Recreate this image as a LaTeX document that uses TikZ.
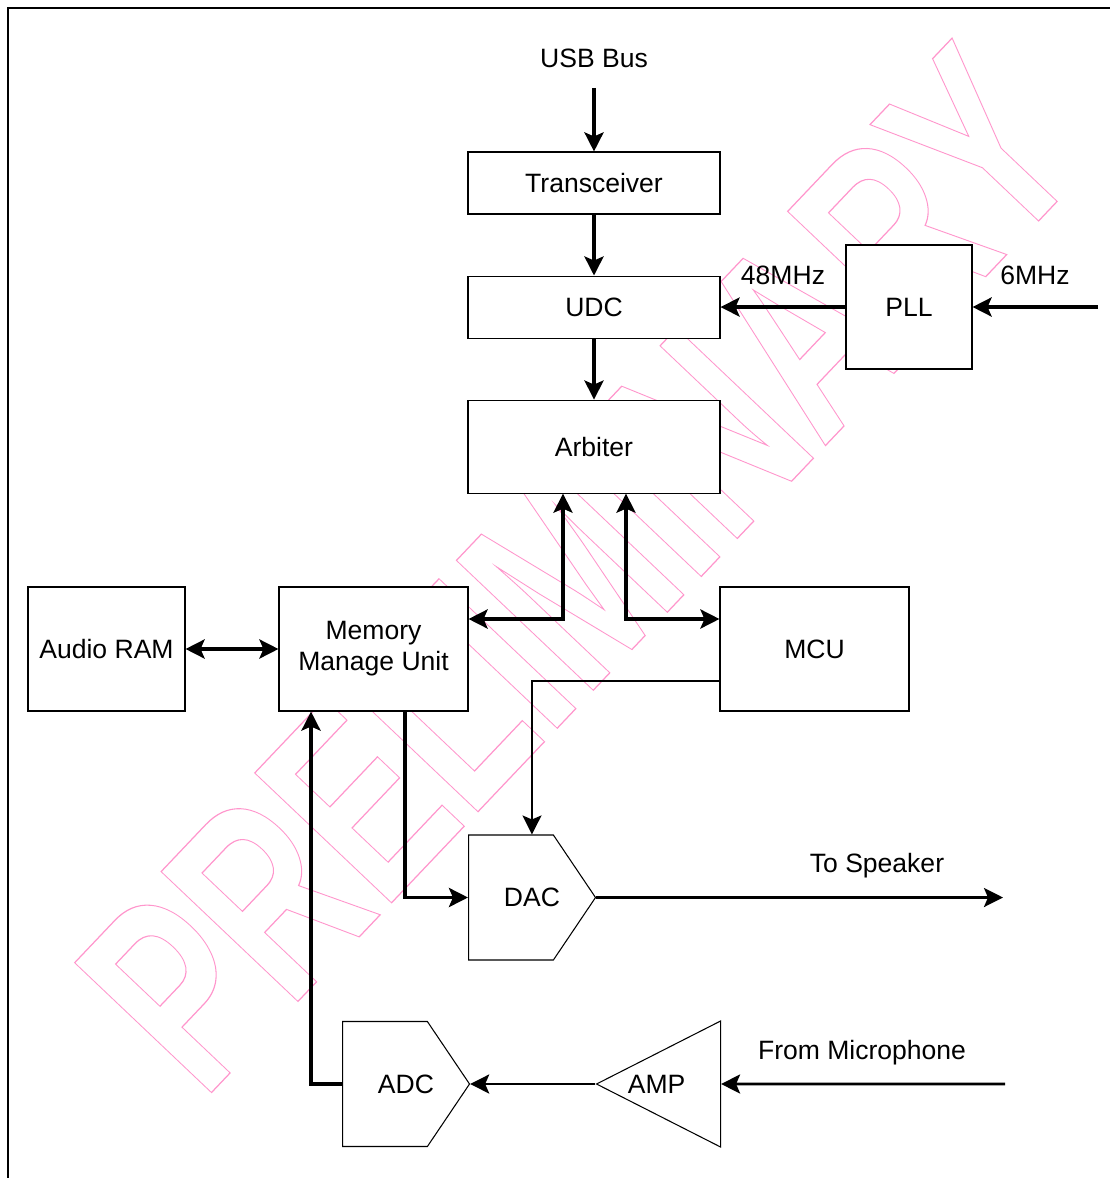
\documentclass[tikz,border=0pt]{standalone}
\usepackage{fontspec}
\setmainfont{Liberation Sans}
\usetikzlibrary{positioning, arrows.meta, shapes.symbols, shapes.geometric}

\definecolor{wmpink}{RGB}{255,150,204}

\begin{document}
\begin{tikzpicture}[
            >={Stealth[length=0.38cm, width=0.38cm, inset=0.08cm]},
            block/.style={
                draw,
                fill=white,
                line width=0.6pt,
                font=\fontsize{15.1}{17.6}\selectfont,
                inner sep=0pt,
                align=center
            },
            convbox/.style={
                block,
                signal,
                signal to=east,
                signal pointer angle=112,
                minimum width=2.54cm,
                minimum height=2.5cm,
                anchor=west,
                execute at begin node={\hspace*{0.42cm}},
                execute at end node={\hspace*{-0.42cm}}
            },
            ampbox/.style={
                block,
                isosceles triangle,
                shape border rotate=180,
                isosceles triangle stretches,
                minimum width=2.52cm,
                minimum height=2.48cm,
                anchor=apex,
                execute at begin node={\hspace*{-0.4cm}},
                execute at end node={\hspace*{0.4cm}}
            },
            tag/.style={
                font=\fontsize{15.1}{17.6}\selectfont,
                inner sep=0pt
            },
            bus/.style={draw, line width=2.2pt},
            wire/.style={draw, line width=1.6pt},
            thinwire/.style={draw, line width=1.1pt},
            frameline/.style={draw, line width=1.2pt},
            watermark/.style={
                transform shape,
                inner sep=0pt,
                line width=0.7pt,
                text=wmpink,
                font=\fontsize{156}{160}\selectfont\bfseries
            }
        ]

        \useasboundingbox (0,0) rectangle (22.2,-23.56);

        % Page frame (top and left edges)
        \draw[frameline] (0.16,-23.56) |- (22.2,-0.16);

        % Watermark (outlined, behind the blocks)
        \begin{scope}[shift={(4.05,-22.04)}, rotate=46.5, xscale=0.687]
            \node[watermark, anchor=base west] (prelim) at (0,0)
                {\special{pdf:literal direct 1 Tr}PRELIMINARY\special{pdf:literal direct 0 Tr}};
        \end{scope}

        % USB side
        \node[tag] (usbbus) at (11.88,-1.16) {USB Bus};
        \coordinate (usbin) at (11.88,-1.76);

        \node[block,
            minimum width=5.04cm,
            minimum height=1.24cm
        ] (trans) at (11.88,-3.66) {Transceiver};

        \node[block,
            minimum width=5.04cm,
            minimum height=1.24cm,
            anchor=north
        ] (udc) at ([yshift=-1.22cm] trans.south) {UDC};

        \node[block,
            minimum width=5.04cm,
            minimum height=1.86cm,
            anchor=north
        ] (arb) at ([yshift=-1.22cm] udc.south) {Arbiter};

        % Clock
        \node[block,
            minimum width=2.52cm,
            minimum height=2.48cm
        ] (pll) at (18.18,-6.14) {PLL};
        \coordinate (clkin) at (21.96,-6.14);

        \node[tag] (fortyeight) at (15.66,-5.5) {48MHz};
        \node[tag] (six) at (20.7,-5.5) {6MHz};

        % Middle row
        \node[block,
            minimum width=3.14cm,
            minimum height=2.48cm
        ] (ram) at (2.13,-12.98) {Audio RAM};

        \node[block,
            minimum width=3.78cm,
            minimum height=2.48cm
        ] (mmu) at (7.47,-12.98) {Memory\\Manage Unit};

        \node[block,
            minimum width=3.78cm,
            minimum height=2.48cm
        ] (mcu) at (16.29,-12.98) {MCU};

        % Converters
        \node[convbox] (dac) at (9.36,-17.95) {DAC};
        \node[convbox] (adc) at (6.84,-21.68) {ADC};
        \node[ampbox] (amp) at ([xshift=2.5cm] adc.east) {AMP};

        \coordinate (spk) at (20.06,-17.95);
        \coordinate (mic) at (20.1,-21.68);
        \node[tag] (tospk) at (17.54,-17.32) {To Speaker};
        \node[tag] (frommic) at (17.24,-21.06) {From Microphone};

        % Connectors
        \draw[bus, ->] (usbin) -- (trans.north);
        \draw[bus, ->] (trans.south) -- (udc.north);
        \draw[bus, ->] (udc.south) -- (arb.north);
        \draw[bus, ->] (pll.west) -- (udc.east);
        \draw[bus, ->] (clkin) -- (pll.east);

        \draw[bus, <->] (ram.east) -- (mmu.west);
        \draw[bus, <->] ([xshift=-0.62cm] arb.south) |- ([yshift=0.6cm] mmu.east);
        \draw[bus, <->] ([xshift=0.64cm] arb.south) |- ([yshift=0.6cm] mcu.west);

        \draw[thinwire, ->] ([yshift=-0.64cm] mcu.west) -| ([xshift=0.42cm] dac.north);
        \draw[bus, ->] ([xshift=0.63cm] mmu.south) |- (dac.west);
        \draw[bus, ->] (adc.west) -| ([xshift=-1.25cm] mmu.south);

        \draw[wire, ->] (dac.east) -- (spk);
        \draw[wire, ->] (amp.apex) -- (adc.east);
        \draw[wire, ->] (mic) -- (amp.east);
\end{tikzpicture}
\end{document}
